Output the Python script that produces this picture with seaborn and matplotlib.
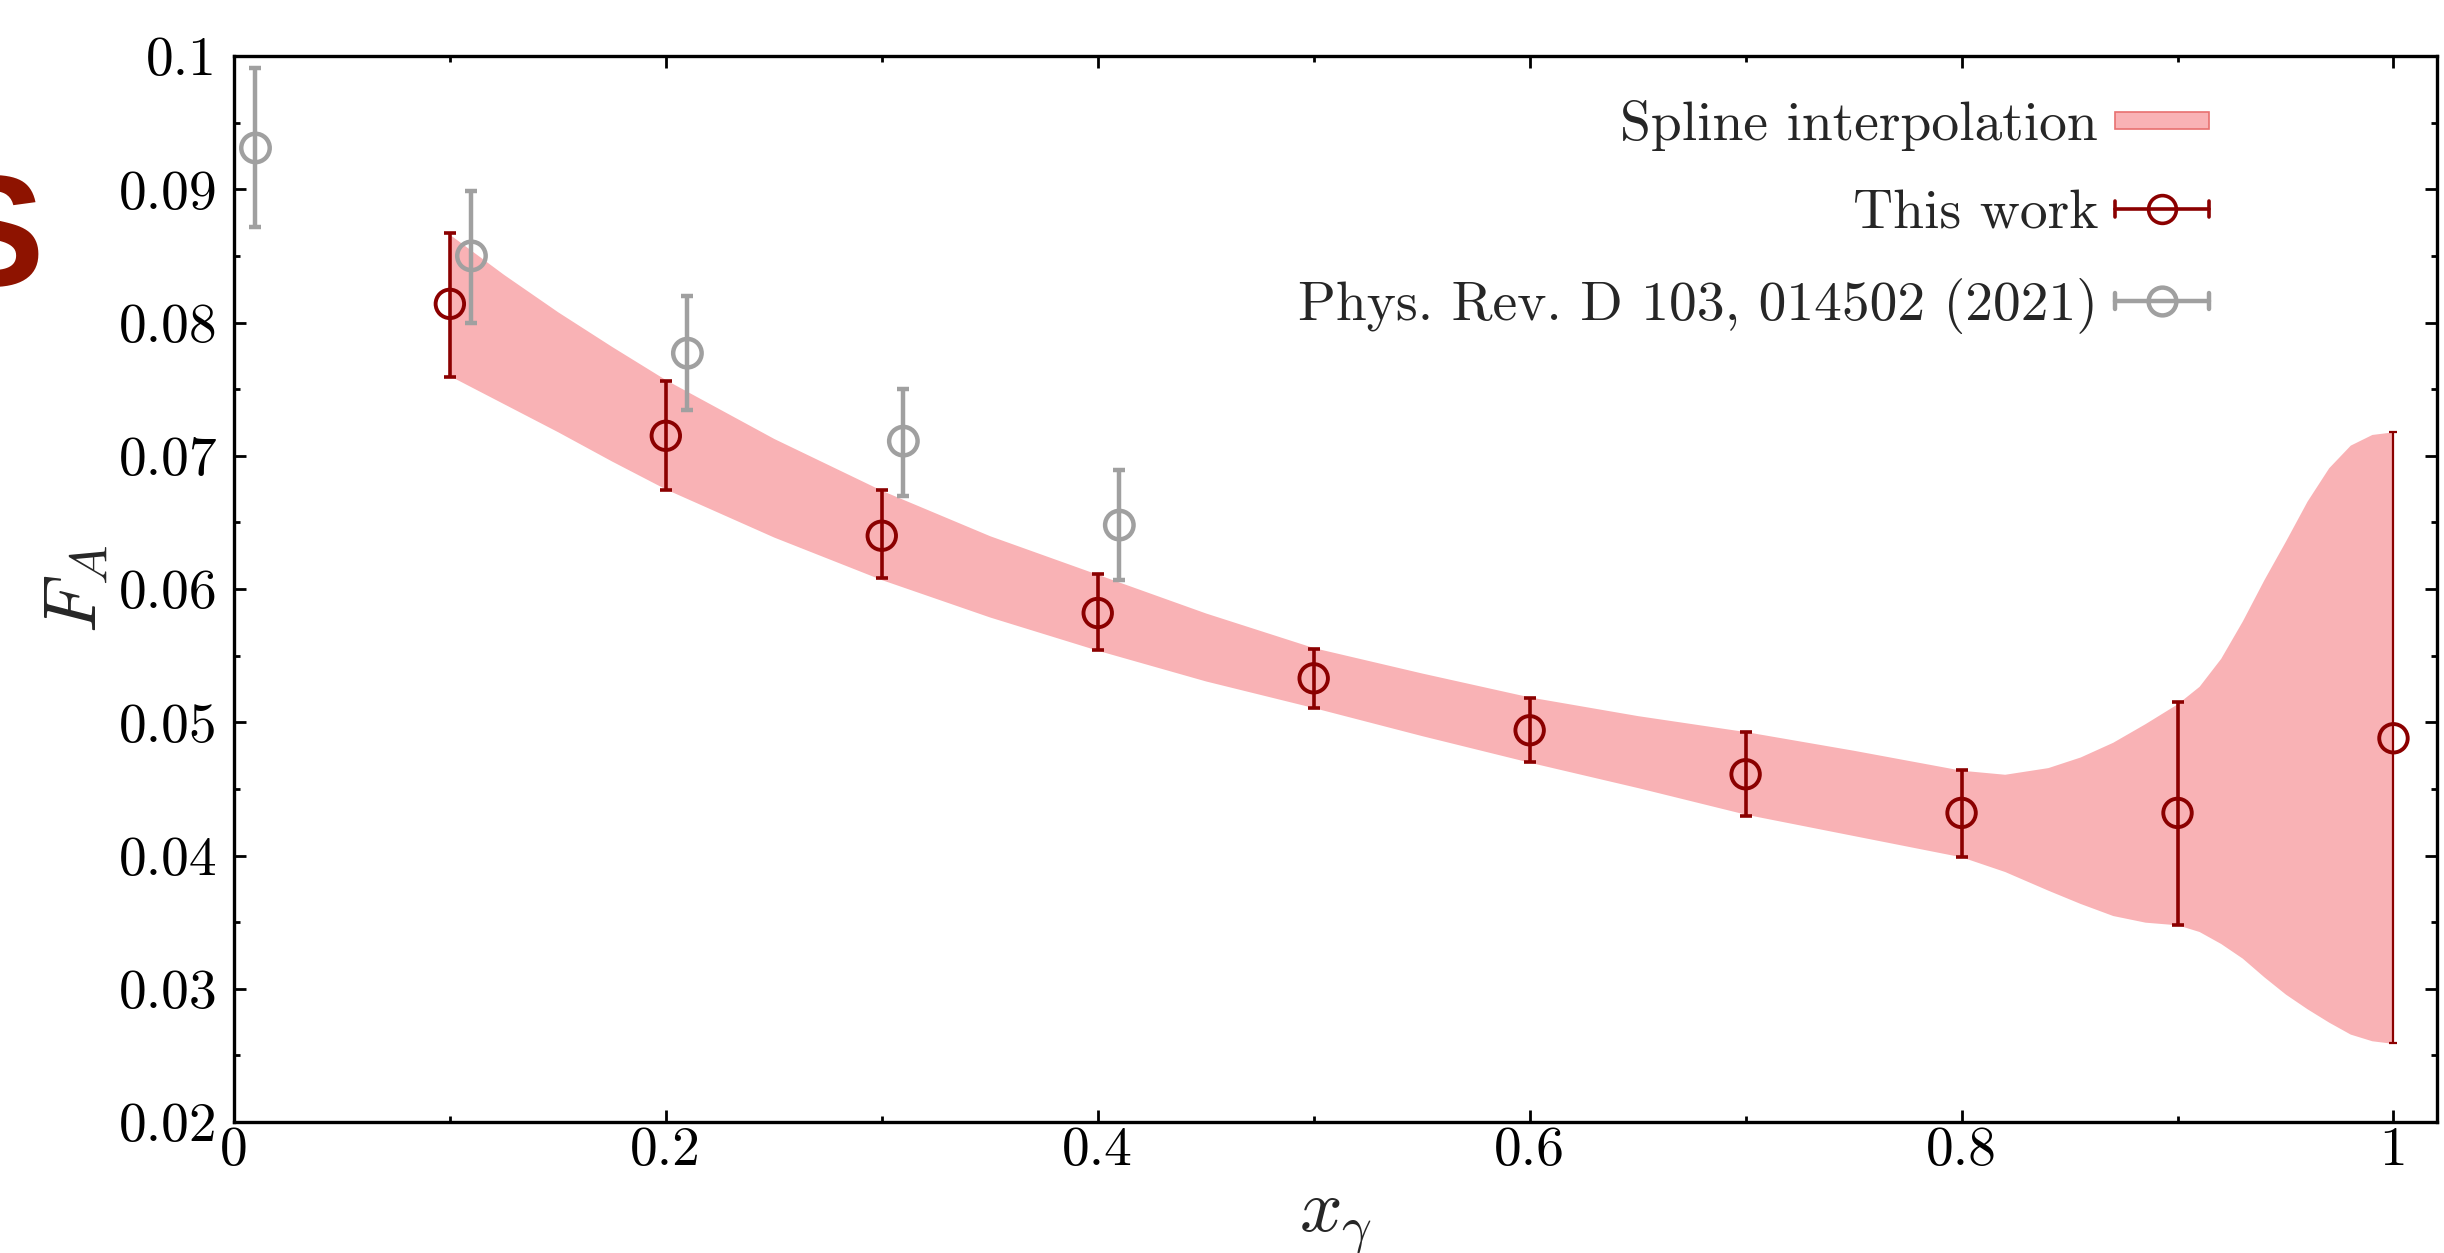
import numpy as np
import matplotlib
matplotlib.use("Agg")
import matplotlib.pyplot as plt
import seaborn as sns
from matplotlib.legend_handler import HandlerBase
from matplotlib.lines import Line2D
from matplotlib.patches import Rectangle, Patch
from matplotlib.ticker import FixedLocator, MultipleLocator, FuncFormatter

# ---------------- data ----------------
this_x = [0.1, 0.2, 0.3, 0.4, 0.5, 0.6, 0.7, 0.8, 0.9, 1.0]
this_y = [0.0814, 0.0715, 0.0640, 0.0582, 0.0533, 0.0494, 0.0461, 0.0432, 0.0432, 0.0488]
this_lo = [0.0759, 0.0674, 0.0608, 0.0554, 0.0511, 0.0470, 0.0430, 0.0399, 0.0348, 0.0259]
this_hi = [0.0867, 0.0756, 0.0674, 0.0611, 0.0555, 0.0518, 0.0493, 0.0464, 0.0515, 0.0718]

prev_x = [0.01, 0.11, 0.21, 0.31, 0.41]
prev_y = [0.0931, 0.0850, 0.0777, 0.0711, 0.0648]
prev_lo = [0.0872, 0.0800, 0.0734, 0.0670, 0.0607]
prev_hi = [0.0991, 0.0899, 0.0820, 0.0750, 0.0689]

band_x = [0.10, 0.125, 0.15, 0.175, 0.20, 0.25, 0.30, 0.35, 0.40, 0.45, 0.50, 0.55,
          0.60, 0.65, 0.70, 0.75, 0.80, 0.82, 0.84, 0.855, 0.87, 0.885, 0.90, 0.91,
          0.92, 0.93, 0.94, 0.95, 0.96, 0.97, 0.98, 0.99, 1.00]
band_hi = [0.0866, 0.0836, 0.0808, 0.0782, 0.0757, 0.0713, 0.0674, 0.0640, 0.0611,
           0.0582, 0.0556, 0.0537, 0.0519, 0.0505, 0.0493, 0.0479, 0.0464, 0.0461,
           0.0466, 0.0474, 0.0485, 0.0499, 0.0514, 0.0527, 0.0548, 0.0576, 0.0607,
           0.0636, 0.0666, 0.0691, 0.0708, 0.0716, 0.0718]
band_lo = [0.0760, 0.0739, 0.0718, 0.0696, 0.0675, 0.0639, 0.0607, 0.0579, 0.0554,
           0.0531, 0.0511, 0.0490, 0.0470, 0.0451, 0.0431, 0.0415, 0.0399, 0.0388,
           0.0374, 0.0364, 0.0355, 0.0350, 0.0348, 0.0343, 0.0334, 0.0323, 0.0309,
           0.0296, 0.0285, 0.0275, 0.0266, 0.0261, 0.0259]

x_ticks = [0, 0.2, 0.4, 0.6, 0.8, 1.0]
y_ticks = [0.02, 0.03, 0.04, 0.05, 0.06, 0.07, 0.08, 0.09, 0.1]
legend_labels = ["Spline interpolation", "This work", "Phys. Rev. D 103, 014502 (2021)"]

RED = "#8B0000"
GREY = "#A0A0A0"
BAND = "#F9B2B5"
BAND_EDGE = "#E87070"

# ---------------- style ----------------
sns.set_theme(style="ticks")
plt.rcParams.update({
    "font.family": ["cmr10", "DejaVu Serif"],
    "mathtext.fontset": "cm",
    "axes.unicode_minus": False,
    "axes.formatter.use_mathtext": True,
    "axes.edgecolor": "black",
    "xtick.color": "black",
    "ytick.color": "black",
})


class ErrHandler(HandlerBase):
    def create_artists(self, legend, orig_handle, xdescent, ydescent, width, height,
                       fontsize, trans):
        c = orig_handle.get_color()
        lw = orig_handle.get_linewidth()
        y = height / 2.0 - ydescent
        x0 = -xdescent
        x1 = x0 + width
        cap = 0.3 * fontsize
        arts = [
            Line2D([x0, x1], [y, y], color=c, lw=lw),
            Line2D([x0, x0], [y - cap / 2, y + cap / 2], color=c, lw=lw),
            Line2D([x1, x1], [y - cap / 2, y + cap / 2], color=c, lw=lw),
            Line2D([(x0 + x1) / 2], [y], marker="o", ms=10, mfc="none", mec=c, mew=lw,
                   ls="none"),
        ]
        for a in arts:
            a.set_transform(trans)
        return arts


class BandHandler(HandlerBase):
    def create_artists(self, legend, orig_handle, xdescent, ydescent, width, height,
                       fontsize, trans):
        h = 0.3 * fontsize
        y = height / 2.0 - ydescent
        r = Rectangle((-xdescent, y - h / 2), width, h, facecolor=orig_handle.get_facecolor(),
                      edgecolor=orig_handle.get_edgecolor(), lw=orig_handle.get_linewidth())
        r.set_transform(trans)
        return [r]


fig = plt.figure(figsize=(12.22, 6.265), dpi=200)
ax = fig.add_axes([0.0957, 0.1045, 0.9013, 0.8508])
ax.set_facecolor("white")

ax.fill_between(band_x, band_lo, band_hi, color=BAND, lw=0, zorder=1)

prev_err = [np.subtract(prev_y, prev_lo), np.subtract(prev_hi, prev_y)]
this_err = [np.subtract(this_y, this_lo), np.subtract(this_hi, this_y)]

ax.errorbar(prev_x, prev_y, yerr=prev_err, fmt="none", ecolor=GREY, elinewidth=1.6,
            capsize=2.2, capthick=1.6, zorder=2)
ax.errorbar(this_x[:-1], this_y[:-1], yerr=[e[:-1] for e in this_err], fmt="none",
            ecolor=RED, elinewidth=1.3, capsize=2.2, capthick=1.3, zorder=3)
ax.errorbar(this_x[-1:], this_y[-1:], yerr=[e[-1:] for e in this_err], fmt="none",
            ecolor=RED, elinewidth=0.8, capsize=1.6, capthick=0.8, zorder=3)

sns.scatterplot(x=prev_x, y=prev_y, ax=ax, marker="o", s=105, facecolor="none",
                edgecolor=GREY, linewidth=1.6, zorder=4, legend=False)
sns.scatterplot(x=this_x, y=this_y, ax=ax, marker="o", s=105, facecolor="none",
                edgecolor=RED, linewidth=1.4, zorder=5, legend=False)

ax.set_xlim(0, 1.02)
ax.set_ylim(0.02, 0.1)
ax.xaxis.set_major_locator(FixedLocator(x_ticks))
ax.xaxis.set_minor_locator(MultipleLocator(0.1))
ax.yaxis.set_major_locator(FixedLocator(y_ticks))
ax.yaxis.set_minor_locator(MultipleLocator(0.005))
fmt = FuncFormatter(lambda v, p: f"{v:g}")
ax.xaxis.set_major_formatter(fmt)
ax.yaxis.set_major_formatter(fmt)
ax.tick_params(which="both", direction="in", top=True, right=True, width=1.0,
               labelsize=20)
ax.tick_params(which="major", length=4.3)
ax.tick_params(which="minor", length=2.2)
ax.tick_params(axis="x", which="major", pad=1.5)
ax.tick_params(axis="y", which="major", pad=6)
for s in ax.spines.values():
    s.set_linewidth(1.2)
    s.set_color("black")
    s.set_visible(True)
ax.grid(False)

ax.set_xlabel(r"$x_\gamma$", fontsize=27)
ax.set_ylabel(r"$F_A$", fontsize=27)
ax.xaxis.set_label_coords(0.5, -0.063)
ax.yaxis.set_label_coords(-0.056, 0.5)

handles = [Patch(facecolor=BAND, edgecolor=BAND_EDGE, lw=0.6),
           Line2D([], [], color=RED, lw=1.3),
           Line2D([], [], color=GREY, lw=1.6)]
ax.legend(handles, legend_labels, loc="upper right", bbox_to_anchor=(0.8967, 0.959),
          frameon=False, markerfirst=False, fontsize=20, handlelength=1.7,
          handletextpad=0.3, labelspacing=0.7, borderpad=0, borderaxespad=0,
          handler_map={Patch: BandHandler(), Line2D: ErrHandler()})

fig.text(0.018, 0.7725, "S", family=["Liberation Sans", "DejaVu Sans"], fontweight="bold",
         fontsize=57, color="#8E1300", ha="right", va="baseline")

fig.savefig("out.png", dpi=200, facecolor="white")
